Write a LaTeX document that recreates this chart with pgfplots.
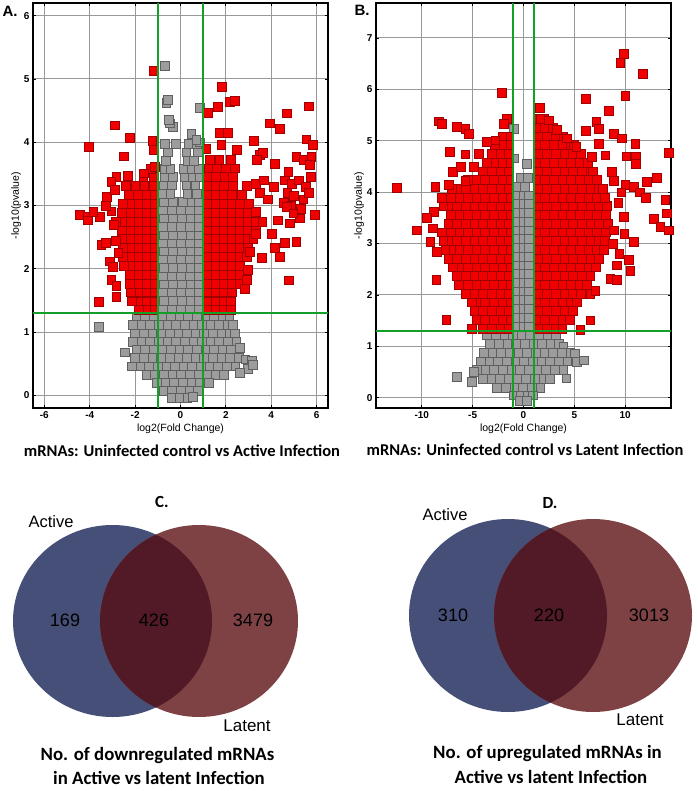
\documentclass[border=0pt]{standalone}
\usepackage{pgfplots}
\pgfplotsset{compat=1.18}
\usepackage{fontspec}
\setmainfont{Liberation Sans}
\newfontfamily\carlito{Carlito}

\definecolor{vred}{RGB}{240,0,0}
\definecolor{vredE}{RGB}{160,0,0}
\definecolor{vgray}{RGB}{156,156,156}
\definecolor{vgrayE}{RGB}{95,95,95}
\definecolor{vgreen}{RGB}{20,160,40}
\definecolor{vblue}{RGB}{70,79,120}
\definecolor{vmaroon}{RGB}{126,66,69}
\definecolor{vover}{RGB}{82,26,38}

\pgfplotsset{
  volc/.style={
    scale only axis, width=295pt, height=405pt, anchor=south west,
    axis line style={black, line width=1.4pt},
    grid=major, major grid style={black!40, line width=0.9pt},
    tick style={black, line width=0.8pt}, major tick length=3pt,
    tick label style={font=\fontsize{10}{10}\selectfont\bfseries},
    label style={font=\fontsize{10.5}{12}\selectfont},
    xlabel={log2(Fold Change)}, ylabel={-log10(pvalue)},
    xlabel style={yshift=2pt}, ylabel style={yshift=-4pt},
  },
  overlay/.style={scale only axis, width=295pt, height=405pt, anchor=south west, hide axis},
  redmk/.style={only marks, mark=square*, mark size=4.4pt,
    mark options={fill=vred, draw=vredE, line width=0.3pt}},
  graymk/.style={only marks, mark=square*, mark size=4.4pt,
    mark options={fill=vgray, draw=vgrayE, line width=0.5pt}},
  gline/.style={vgreen, line width=1.8pt, no marks},
}

\begin{document}
\begin{tikzpicture}
\useasboundingbox (0pt,0pt) rectangle (697pt,-791pt);

% ---------- A: uninfected vs active ----------
\begin{axis}[volc, at={(33pt,-408pt)},
  xmin=-6.5, xmax=6.5, ymin=-0.2, ymax=6.2,
  xtick={-6,-4,-2,0,2,4,6}, xticklabels={-6,-4,-2,0,2,4,6},
  ytick={0,1,2,3,4,5,6}, yticklabels={0,1,2,3,4,5,6}]
% not significant
\addplot[graymk] coordinates {
(-1.95,1.24)(-1.57,1.24)(-1.19,1.24)(-0.81,1.24)(-0.43,1.24)(-0.05,1.24)(0.33,1.24)(0.71,1.24)(1.09,1.24)(1.47,1.24)(1.85,1.24)(2.15,1.24)
(-2.1,1.11)(-1.72,1.11)(-1.34,1.11)(-0.96,1.11)(-0.58,1.11)(-0.2,1.11)(0.18,1.11)(0.56,1.11)(0.94,1.11)(1.32,1.11)(1.7,1.11)(2.08,1.11)(2.3,1.11)
(-2.0,0.98)(-1.62,0.98)(-1.24,0.98)(-0.86,0.98)(-0.48,0.98)(-0.1,0.98)(0.28,0.98)(0.66,0.98)(1.04,0.98)(1.42,0.98)(1.8,0.98)(2.18,0.98)(2.4,0.98)
(-2.1,0.85)(-1.72,0.85)(-1.34,0.85)(-0.96,0.85)(-0.58,0.85)(-0.2,0.85)(0.18,0.85)(0.56,0.85)(0.94,0.85)(1.32,0.85)(1.7,0.85)(2.08,0.85)(2.46,0.85)
(-2.45,0.68)(-1.95,0.72)(-1.57,0.72)(-1.19,0.72)(-0.81,0.72)(-0.43,0.72)(-0.05,0.72)(0.33,0.72)(0.71,0.72)(1.09,0.72)(1.47,0.72)(1.85,0.72)(2.23,0.72)(2.6,0.75)
(-2.0,0.59)(-1.62,0.59)(-1.24,0.59)(-0.86,0.59)(-0.48,0.59)(-0.1,0.59)(0.28,0.59)(0.66,0.59)(1.04,0.59)(1.42,0.59)(1.8,0.59)(2.18,0.59)(2.56,0.59)(2.85,0.57)(3.15,0.55)
(-2.15,0.46)(-1.77,0.46)(-1.39,0.46)(-1.01,0.46)(-0.63,0.46)(-0.25,0.46)(0.13,0.46)(0.51,0.46)(0.89,0.46)(1.27,0.46)(1.65,0.46)(2.03,0.46)(2.41,0.46)(2.95,0.42)(3.2,0.48)
(-1.5,0.33)(-1.12,0.33)(-0.74,0.33)(-0.36,0.33)(0.02,0.33)(0.4,0.33)(0.78,0.33)(1.16,0.33)(1.54,0.33)(1.92,0.33)(2.6,0.36)
(-1.05,0.2)(-0.67,0.2)(-0.29,0.2)(0.09,0.2)(0.47,0.2)(0.85,0.2)(1.25,0.2)
(-0.75,0.07)(-0.37,0.07)(0.01,0.07)(0.39,0.07)(0.77,0.07)
(-0.4,-0.04)(-0.05,-0.04)(0.3,-0.04)(0.55,-0.02)
(-3.6,1.08)
(-0.8,1.37)(-0.4,1.37)(0,1.37)(0.4,1.37)(0.8,1.37)
(-0.75,1.5)(-0.35,1.5)(0.05,1.5)(0.45,1.5)(0.8,1.5)
(-0.8,1.63)(-0.4,1.63)(0,1.63)(0.4,1.63)(0.8,1.63)
(-0.75,1.76)(-0.35,1.76)(0.05,1.76)(0.45,1.76)(0.8,1.76)
(-0.8,1.89)(-0.4,1.89)(0,1.89)(0.4,1.89)(0.8,1.89)
(-0.75,2.02)(-0.35,2.02)(0.05,2.02)(0.45,2.02)(0.8,2.02)
(-0.8,2.15)(-0.4,2.15)(0,2.15)(0.4,2.15)(0.8,2.15)
(-0.75,2.28)(-0.35,2.28)(0.05,2.28)(0.45,2.28)(0.8,2.28)
(-0.8,2.41)(-0.4,2.41)(0,2.41)(0.4,2.41)(0.8,2.41)
(-0.75,2.54)(-0.35,2.54)(0.05,2.54)(0.45,2.54)(0.8,2.54)
(-0.8,2.67)(-0.4,2.67)(0,2.67)(0.4,2.67)(0.8,2.67)
(-0.75,2.8)(-0.35,2.8)(0.05,2.8)(0.45,2.8)(0.8,2.8)
(-0.8,2.93)(-0.4,2.93)(0,2.93)(0.4,2.93)(0.8,2.93)
(-0.75,3.06)(-0.35,3.06)(0.1,3.06)(0.5,3.06)(0.8,3.06)
(-0.8,3.19)(-0.45,3.19)(0.3,3.19)(0.7,3.19)
(-0.75,3.32)(-0.4,3.32)(0.25,3.32)(0.65,3.32)
(-0.7,3.45)(-0.35,3.45)(0.2,3.45)(0.55,3.45)(0.85,3.45)
(-0.7,3.58)(-0.45,3.58)(0.15,3.58)(0.5,3.58)(0.8,3.58)
(-0.65,3.71)(0.3,3.71)(0.6,3.71)
(-0.55,3.84)(0.25,3.84)(0.75,3.84)
(-0.7,3.97)(-0.2,3.97)(0.35,3.97)(0.7,3.97)(0.85,4.0)
(0.47,4.14)(0.69,4.04)(-0.34,4.25)(-0.49,4.3)(-0.53,4.35)(0.84,4.55)(-0.63,4.62)(-0.56,4.67)(-0.71,5.21)
};
% significant
\addplot[redmk] coordinates {
(-1.2,1.35)(-1.55,1.35)(-1.85,1.35)
(-1.2,1.49)(-1.55,1.49)(-1.9,1.49)(-2.15,1.49)
(-1.2,1.63)(-1.55,1.63)(-1.9,1.63)(-2.2,1.63)
(-1.2,1.77)(-1.55,1.77)(-1.9,1.77)(-2.25,1.77)
(-1.2,1.91)(-1.55,1.91)(-1.9,1.91)(-2.25,1.91)
(-1.2,2.05)(-1.55,2.05)(-1.9,2.05)(-2.25,2.05)(-2.5,2.05)
(-1.2,2.19)(-1.55,2.19)(-1.9,2.19)(-2.25,2.19)(-2.55,2.19)
(-1.2,2.33)(-1.55,2.33)(-1.9,2.33)(-2.25,2.33)(-2.55,2.33)
(-1.2,2.47)(-1.55,2.47)(-1.9,2.47)(-2.25,2.47)(-2.6,2.47)
(-1.2,2.61)(-1.55,2.61)(-1.9,2.61)(-2.25,2.61)(-2.6,2.61)
(-1.2,2.75)(-1.55,2.75)(-1.9,2.75)(-2.25,2.75)(-2.6,2.75)(-2.85,2.75)
(-1.2,2.89)(-1.55,2.89)(-1.9,2.89)(-2.25,2.89)(-2.6,2.89)
(-1.2,3.03)(-1.55,3.03)(-1.9,3.03)(-2.25,3.03)(-2.55,3.03)
(-1.2,3.17)(-1.55,3.17)(-1.9,3.17)(-2.3,3.17)
(-1.2,3.31)(-1.6,3.31)(-2.0,3.31)(-2.4,3.31)
(-1.2,3.45)(-1.65,3.45)(-1.3,3.58)
(-4.04,3.93)(-2.91,4.27)(-2.25,4.07)(-2.5,3.78)(-1.19,5.13)(-1.25,4.02)(-1.19,3.88)
(-2.84,3.46)(-2.32,3.47)(-3.06,3.38)(-1.62,3.51)(-1.15,3.62)(-3.25,3.14)
(-4.46,2.85)(-4.09,2.83)(-4.09,2.77)(-3.57,2.83)(-3.06,2.91)(-3.5,2.38)(-3.31,2.41)
(-3.13,2.12)(-2.99,2.04)(-3.06,1.83)(-2.84,1.73)(-2.84,1.56)(-3.6,1.48)
(-2.9,3.25)(-3.3,3.0)(-2.95,2.7)(-2.85,2.45)(-2.75,2.25)(-3.85,2.9)
(1.2,1.35)(1.55,1.35)(1.9,1.35)(2.2,1.35)
(1.2,1.49)(1.55,1.49)(1.9,1.49)(2.2,1.49)
(1.2,1.63)(1.55,1.63)(1.9,1.63)(2.25,1.63)
(1.2,1.77)(1.55,1.77)(1.9,1.77)(2.25,1.77)(2.6,1.77)
(1.2,1.91)(1.55,1.91)(1.9,1.91)(2.25,1.91)(2.6,1.91)
(1.2,2.05)(1.55,2.05)(1.9,2.05)(2.25,2.05)(2.6,2.05)
(1.2,2.19)(1.55,2.19)(1.9,2.19)(2.25,2.19)(2.6,2.19)(2.9,2.19)
(1.2,2.33)(1.55,2.33)(1.9,2.33)(2.25,2.33)(2.6,2.33)(2.95,2.33)
(1.2,2.47)(1.55,2.47)(1.9,2.47)(2.25,2.47)(2.6,2.47)(2.95,2.47)(3.2,2.47)
(1.2,2.61)(1.55,2.61)(1.9,2.61)(2.25,2.61)(2.6,2.61)(2.95,2.61)(3.3,2.61)
(1.2,2.75)(1.55,2.75)(1.9,2.75)(2.25,2.75)(2.6,2.75)(2.95,2.75)(3.3,2.75)
(1.2,2.89)(1.55,2.89)(1.9,2.89)(2.25,2.89)(2.6,2.89)(2.95,2.89)
(1.2,3.03)(1.55,3.03)(1.9,3.03)(2.25,3.03)(2.6,3.03)(3.0,3.03)
(1.2,3.17)(1.55,3.17)(1.9,3.17)(2.25,3.17)(2.7,3.17)
(1.2,3.31)(1.55,3.31)(1.9,3.31)(2.3,3.31)(2.9,3.31)
(1.2,3.45)(1.55,3.45)(1.95,3.45)(2.3,3.45)
(1.25,3.59)(1.6,3.59)(2.0,3.59)(2.4,3.59)
(1.3,3.73)(1.7,3.73)(2.2,3.73)
(1.18,4.47)(1.65,4.56)(1.82,4.88)(2.16,4.64)(2.38,4.66)(1.72,4.15)(2.09,4.15)(1.79,3.96)
(1.13,3.9)(2.46,3.88)(3.22,4.03)(3.93,4.3)(4.37,4.22)(4.66,4.46)(5.66,4.57)(5.54,4.05)
(5.81,3.96)(3.49,3.8)(3.63,3.84)(3.34,3.72)(4.15,3.66)(5.10,3.77)(5.40,3.72)(5.76,3.77)
(5.69,3.64)(4.74,3.54)
(4.6,3.4)(4.9,3.35)(5.2,3.4)(5.5,3.3)(5.75,3.45)(4.7,3.2)(5.0,3.15)(5.4,3.1)(5.65,3.2)
(4.55,3.05)(4.85,3.0)(5.3,2.95)(3.3,3.35)(3.65,3.4)(3.5,3.2)(3.85,3.1)(4.1,3.3)
(5.91,2.85)(5.25,2.8)(4.66,2.98)(4.96,2.88)(4.29,2.77)(4.0,2.56)(4.81,2.72)(5.10,2.43)
(4.59,2.41)(4.15,2.33)(4.37,2.19)(4.78,1.82)(3.56,2.17)(3.04,2.27)(2.97,1.98)(2.9,1.83)
(2.82,1.69)(3.3,2.55)(3.6,2.75)(3.3,2.9)
};
\end{axis}
% threshold lines for A, drawn over the marks
\begin{axis}[overlay, at={(33pt,-408pt)}, xmin=-6.5, xmax=6.5, ymin=-0.2, ymax=6.2]
\addplot[gline] coordinates {(-1,-0.2)(-1,6.2)};
\addplot[gline] coordinates {(1,-0.2)(1,6.2)};
\addplot[gline] coordinates {(-6.5,1.3)(6.5,1.3)};
\end{axis}

% ---------- B: uninfected vs latent ----------
\begin{axis}[volc, at={(376pt,-408pt)},
  xmin=-14.5, xmax=14.5, ymin=-0.2, ymax=7.68,
  xtick={-10,-5,0,5,10}, xticklabels={-10,-5,0,5,10},
  ytick={0,1,2,3,4,5,6,7}, yticklabels={0,1,2,3,4,5,6,7}]
\addplot[graymk] coordinates {
(-3.6,1.22)(-2.75,1.22)(-1.9,1.22)(-1.05,1.22)(-0.2,1.22)(0.65,1.22)(1.5,1.22)(2.35,1.22)(3.2,1.22)
(-3.3,1.05)(-2.45,1.05)(-1.6,1.05)(-0.75,1.05)(0.1,1.05)(0.95,1.05)(1.8,1.05)(2.65,1.05)(3.5,1.05)(3.9,1.0)
(-3.9,0.88)(-3.05,0.88)(-2.2,0.88)(-1.35,0.88)(-0.5,0.88)(0.35,0.88)(1.2,0.88)(2.05,0.88)(2.9,0.88)(3.75,0.88)(4.6,0.88)(5.0,0.85)
(-4.2,0.71)(-3.35,0.71)(-2.5,0.71)(-1.65,0.71)(-0.8,0.71)(0.05,0.71)(0.9,0.71)(1.75,0.71)(2.6,0.71)(3.45,0.71)(4.3,0.71)(5.2,0.7)(5.9,0.73)
(-4.6,0.54)(-3.75,0.54)(-2.9,0.54)(-2.05,0.54)(-1.2,0.54)(-0.35,0.54)(0.5,0.54)(1.35,0.54)(2.2,0.54)(3.05,0.54)(3.9,0.54)
(-5.08,0.31)(-4.0,0.37)(-3.15,0.37)(-2.3,0.37)(-1.45,0.37)(-0.6,0.37)(0.25,0.37)(1.1,0.37)(1.95,0.37)(2.6,0.37)(4.2,0.38)
(-2.6,0.2)(-1.75,0.2)(-0.9,0.2)(-0.05,0.2)(0.8,0.2)(1.65,0.2)
(-1.0,0.05)(-0.3,0.05)(0.4,0.05)(0.9,0.05)(-0.35,-0.06)(0.35,-0.06)
(-6.56,0.41)(-4.9,0.5)
(-0.55,1.39)(0,1.39)(0.55,1.39)(-0.55,1.56)(0,1.56)(0.55,1.56)
(-0.55,1.73)(0,1.73)(0.55,1.73)(-0.55,1.9)(0,1.9)(0.55,1.9)
(-0.55,2.07)(0,2.07)(0.55,2.07)(-0.55,2.24)(0,2.24)(0.55,2.24)
(-0.55,2.41)(0,2.41)(0.55,2.41)(-0.55,2.58)(0,2.58)(0.55,2.58)
(-0.55,2.75)(0,2.75)(0.55,2.75)(-0.55,2.92)(0,2.92)(0.55,2.92)
(-0.55,3.09)(0,3.09)(0.55,3.09)(-0.55,3.26)(0,3.26)(0.55,3.26)
(-0.55,3.43)(0,3.43)(0.55,3.43)(-0.55,3.6)(0,3.6)(0.55,3.6)
(-0.55,3.77)(0,3.77)(0.55,3.77)(-0.55,3.94)(0,3.94)(0.55,3.94)
(-0.55,4.11)(0.1,4.11)(-0.3,4.28)(0.4,4.28)(0.33,4.56)(-0.98,4.66)(-0.98,5.24)
};
\addplot[redmk] coordinates {
(-1.45,1.35)(-2.3,1.35)(-3.15,1.35)(-4.0,1.35)
(-1.45,1.52)(-2.1,1.52)(-2.95,1.52)(-3.8,1.52)(-4.65,1.52)
(-1.45,1.69)(-2.3,1.69)(-3.15,1.69)(-4.0,1.69)(-4.85,1.69)
(-1.45,1.86)(-2.1,1.86)(-2.95,1.86)(-3.8,1.86)(-4.65,1.86)(-5.1,1.86)
(-1.45,2.03)(-2.3,2.03)(-3.15,2.03)(-4.0,2.03)(-4.85,2.03)(-5.7,2.03)
(-1.45,2.2)(-2.1,2.2)(-2.95,2.2)(-3.8,2.2)(-4.65,2.2)(-5.5,2.2)(-6.35,2.2)
(-1.45,2.37)(-2.3,2.37)(-3.15,2.37)(-4.0,2.37)(-4.85,2.37)(-5.7,2.37)(-6.55,2.37)
(-1.45,2.54)(-2.1,2.54)(-2.95,2.54)(-3.8,2.54)(-4.65,2.54)(-5.5,2.54)(-6.35,2.54)(-7.0,2.54)
(-1.45,2.71)(-2.3,2.71)(-3.15,2.71)(-4.0,2.71)(-4.85,2.71)(-5.7,2.71)(-6.55,2.71)(-7.4,2.71)
(-1.45,2.88)(-2.1,2.88)(-2.95,2.88)(-3.8,2.88)(-4.65,2.88)(-5.5,2.88)(-6.35,2.88)(-7.2,2.88)(-7.7,2.88)
(-1.45,3.05)(-2.3,3.05)(-3.15,3.05)(-4.0,3.05)(-4.85,3.05)(-5.7,3.05)(-6.55,3.05)(-7.4,3.05)(-7.9,3.05)
(-1.45,3.22)(-2.1,3.22)(-2.95,3.22)(-3.8,3.22)(-4.65,3.22)(-5.5,3.22)(-6.35,3.22)(-7.2,3.22)(-8.05,3.22)
(-1.45,3.39)(-2.3,3.39)(-3.15,3.39)(-4.0,3.39)(-4.85,3.39)(-5.7,3.39)(-6.55,3.39)(-7.4,3.39)
(-1.45,3.56)(-2.1,3.56)(-2.95,3.56)(-3.8,3.56)(-4.65,3.56)(-5.5,3.56)(-6.35,3.56)(-7.2,3.56)
(-1.45,3.73)(-2.3,3.73)(-3.15,3.73)(-4.0,3.73)(-4.85,3.73)(-5.7,3.73)(-6.55,3.73)(-7.4,3.73)(-7.9,3.73)
(-1.45,3.9)(-2.1,3.9)(-2.95,3.9)(-3.8,3.9)(-4.65,3.9)(-5.5,3.9)(-6.35,3.9)(-7.2,3.9)(-8.05,3.9)
(-1.45,4.07)(-2.3,4.07)(-3.15,4.07)(-4.0,4.07)(-4.85,4.07)(-5.7,4.07)(-6.55,4.07)(-7.1,4.07)
(-1.45,4.24)(-2.1,4.24)(-2.95,4.24)(-3.8,4.24)(-4.65,4.24)(-5.5,4.24)
(-1.45,4.41)(-2.3,4.41)(-3.15,4.41)(-4.0,4.41)
(-1.45,4.58)(-2.1,4.58)(-2.95,4.58)(-3.6,4.58)
(-1.45,4.75)(-2.3,4.75)(-3.15,4.75)
(-1.45,4.92)(-2.1,4.92)(-2.8,4.92)
(-1.45,5.09)(-2.1,5.09)
(-10.49,3.26)(-9.18,3.04)(-8.52,2.84)(-8.59,2.3)(-7.61,1.52)(-8.85,3.62)(-5.08,1.35)
(-12.46,4.09)(-8.69,4.1)(-7.38,4.14)(-5.74,4.23)(-8.36,5.38)(-8.03,5.34)(-6.56,5.27)
(-5.74,5.24)(-5.41,5.14)(-7.28,4.79)(-5.74,4.74)(-4.43,4.75)(-3.6,4.98)(-2.79,5.01)
(-1.64,5.43)(-1.97,5.34)(-2.13,5.94)(-9.5,3.5)(-8.9,3.3)(-7.0,4.4)(-6.2,4.5)(-4.9,4.5)
(1.45,1.35)(2.3,1.35)(3.15,1.35)(3.8,1.35)
(1.45,1.52)(2.1,1.52)(2.95,1.52)(3.8,1.52)(4.5,1.52)
(1.45,1.69)(2.3,1.69)(3.15,1.69)(4.0,1.69)(4.85,1.69)
(1.45,1.86)(2.1,1.86)(2.95,1.86)(3.8,1.86)(4.65,1.86)(5.2,1.86)
(1.45,2.03)(2.3,2.03)(3.15,2.03)(4.0,2.03)(4.85,2.03)(5.6,2.03)
(1.45,2.2)(2.1,2.2)(2.95,2.2)(3.8,2.2)(4.65,2.2)(5.5,2.2)(6.2,2.2)
(1.45,2.37)(2.3,2.37)(3.15,2.37)(4.0,2.37)(4.85,2.37)(5.7,2.37)(6.55,2.37)
(1.45,2.54)(2.1,2.54)(2.95,2.54)(3.8,2.54)(4.65,2.54)(5.5,2.54)(6.35,2.54)(7.1,2.54)
(1.45,2.71)(2.3,2.71)(3.15,2.71)(4.0,2.71)(4.85,2.71)(5.7,2.71)(6.55,2.71)(7.4,2.71)
(1.45,2.88)(2.1,2.88)(2.95,2.88)(3.8,2.88)(4.65,2.88)(5.5,2.88)(6.35,2.88)(7.2,2.88)(7.9,2.88)
(1.45,3.05)(2.3,3.05)(3.15,3.05)(4.0,3.05)(4.85,3.05)(5.7,3.05)(6.55,3.05)(7.4,3.05)(8.0,3.05)
(1.45,3.22)(2.1,3.22)(2.95,3.22)(3.8,3.22)(4.65,3.22)(5.5,3.22)(6.35,3.22)(7.2,3.22)(8.05,3.22)
(1.45,3.39)(2.3,3.39)(3.15,3.39)(4.0,3.39)(4.85,3.39)(5.7,3.39)(6.55,3.39)(7.4,3.39)(8.25,3.39)
(1.45,3.56)(2.1,3.56)(2.95,3.56)(3.8,3.56)(4.65,3.56)(5.5,3.56)(6.35,3.56)(7.2,3.56)(8.05,3.56)
(1.45,3.73)(2.3,3.73)(3.15,3.73)(4.0,3.73)(4.85,3.73)(5.7,3.73)(6.55,3.73)(7.4,3.73)(8.2,3.73)
(1.45,3.9)(2.1,3.9)(2.95,3.9)(3.8,3.9)(4.65,3.9)(5.5,3.9)(6.35,3.9)(7.2,3.9)(8.0,3.9)
(1.45,4.07)(2.3,4.07)(3.15,4.07)(4.0,4.07)(4.85,4.07)(5.7,4.07)(6.55,4.07)(7.4,4.07)(7.8,4.07)
(1.45,4.24)(2.1,4.24)(2.95,4.24)(3.8,4.24)(4.65,4.24)(5.5,4.24)(6.35,4.24)(7.2,4.24)
(1.45,4.41)(2.3,4.41)(3.15,4.41)(4.0,4.41)(4.85,4.41)(5.7,4.41)(6.55,4.41)(6.8,4.41)
(1.45,4.58)(2.1,4.58)(2.95,4.58)(3.8,4.58)(4.65,4.58)(5.5,4.58)(6.3,4.58)
(1.45,4.75)(2.3,4.75)(3.15,4.75)(4.0,4.75)(4.85,4.75)(5.6,4.75)
(1.45,4.92)(2.1,4.92)(2.95,4.92)(3.8,4.92)(4.65,4.92)(4.9,4.92)
(1.45,5.09)(2.3,5.09)(3.15,5.09)(3.9,5.09)
(1.45,5.26)(2.1,5.26)(2.9,5.26)
(1.45,5.43)(2.0,5.43)
(9.5,6.52)(9.84,6.69)(11.74,6.31)(10.0,5.87)(6.07,5.82)(1.57,5.64)(7.15,5.37)(7.38,5.24)
(8.36,5.58)(8.85,5.14)(9.67,5.05)(10.98,4.94)(10.1,4.7)(11.05,4.69)(11.05,4.56)(14.26,4.77)
(12.13,4.2)(13.1,4.28)(6.07,5.19)(7.38,4.94)(8.03,4.72)(6.72,4.69)(5.18,4.88)(4.26,5.05)
(3.28,5.21)(1.64,5.43)(2.46,5.4)(8.69,4.4)(8.85,4.23)(10.0,4.14)(10.82,4.1)(13.93,3.85)
(12.79,3.49)(13.44,3.33)(14.26,3.26)(14.1,3.59)(10.82,3.04)(10.33,2.68)(10.49,2.48)
(9.18,2.58)(8.52,2.32)(9.18,2.29)(6.56,1.51)(5.57,1.32)(6.56,2.03)(7.05,2.09)(9.84,3.52)
(8.85,3.26)(9.3,3.8)(9.6,4.0)(8.8,3.0)(9.9,3.2)(11.4,4.0)(12.0,3.9)(9.4,2.8)
};
\end{axis}
\begin{axis}[overlay, at={(376pt,-408pt)}, xmin=-14.5, xmax=14.5, ymin=-0.2, ymax=7.68]
\addplot[gline] coordinates {(-1,-0.2)(-1,7.68)};
\addplot[gline] coordinates {(1,-0.2)(1,7.68)};
\addplot[gline] coordinates {(-14.5,1.3)(14.5,1.3)};
\end{axis}

\node[font=\fontsize{15}{15}\selectfont\bfseries] at (10pt,-11pt) {A.};
\node[font=\fontsize{15}{15}\selectfont\bfseries] at (362pt,-10pt) {B.};

% ---------- C and D: Venn diagrams ----------
\begin{axis}[at={(0pt,-791pt)}, anchor=south west, scale only axis,
  width=697pt, height=351pt, xmin=0, xmax=697, ymin=0, ymax=351,
  hide axis, clip=false]
\node[font=\carlito\fontsize{16.5}{17}\selectfont\bfseries] at (axis cs:182,340) {mRNAs: Uninfected control vs Active Infection};
\node[font=\carlito\fontsize{16.5}{17}\selectfont\bfseries] at (axis cs:525,341) {mRNAs: Uninfected control vs Latent Infection};
% C
\fill[vblue] (axis cs:112.5,170) ellipse [x radius=99.5pt, y radius=96pt];
\fill[vmaroon] (axis cs:199,170) ellipse [x radius=99pt, y radius=96pt];
\begin{scope}
\clip (axis cs:112.5,170) ellipse [x radius=99.5pt, y radius=96pt];
\fill[vover] (axis cs:199,170) ellipse [x radius=99pt, y radius=96pt];
\end{scope}
\node[font=\carlito\fontsize{17}{17}\selectfont\bfseries] at (axis cs:162,289) {C.};
\node[font=\fontsize{16.5}{17}\selectfont] at (axis cs:51,269) {Active};
\node[font=\fontsize{17}{17}\selectfont] at (axis cs:247,65) {Latent};
\node[font=\fontsize{18}{18}\selectfont] at (axis cs:65,171) {169};
\node[font=\fontsize{18}{18}\selectfont] at (axis cs:154,171) {426};
\node[font=\fontsize{18}{18}\selectfont] at (axis cs:253,171) {3479};
\node[font=\carlito\fontsize{18.8}{19}\selectfont\bfseries] at (axis cs:157.5,36) {No. of downregulated mRNAs};
\node[font=\carlito\fontsize{18.8}{19}\selectfont\bfseries] at (axis cs:159,13) {in Active vs latent Infection};
% D
\fill[vblue] (axis cs:508,175.5) ellipse [x radius=99pt, y radius=96.5pt];
\fill[vmaroon] (axis cs:593,175.5) ellipse [x radius=99pt, y radius=96.5pt];
\begin{scope}
\clip (axis cs:508,175.5) ellipse [x radius=99pt, y radius=96.5pt];
\fill[vover] (axis cs:593,175.5) ellipse [x radius=99pt, y radius=96.5pt];
\end{scope}
\node[font=\carlito\fontsize{17}{17}\selectfont\bfseries] at (axis cs:550,288) {D.};
\node[font=\fontsize{16.5}{17}\selectfont] at (axis cs:445,276) {Active};
\node[font=\fontsize{17}{17}\selectfont] at (axis cs:640,71) {Latent};
\node[font=\fontsize{18}{18}\selectfont] at (axis cs:453,176) {310};
\node[font=\fontsize{18}{18}\selectfont] at (axis cs:549,176) {220};
\node[font=\fontsize{18}{18}\selectfont] at (axis cs:649,176) {3013};
\node[font=\carlito\fontsize{18.8}{19}\selectfont\bfseries] at (axis cs:547.5,38) {No. of upregulated mRNAs in};
\node[font=\carlito\fontsize{18.8}{19}\selectfont\bfseries] at (axis cs:551,14) {Active vs latent Infection};
\end{axis}
\end{tikzpicture}
\end{document}
